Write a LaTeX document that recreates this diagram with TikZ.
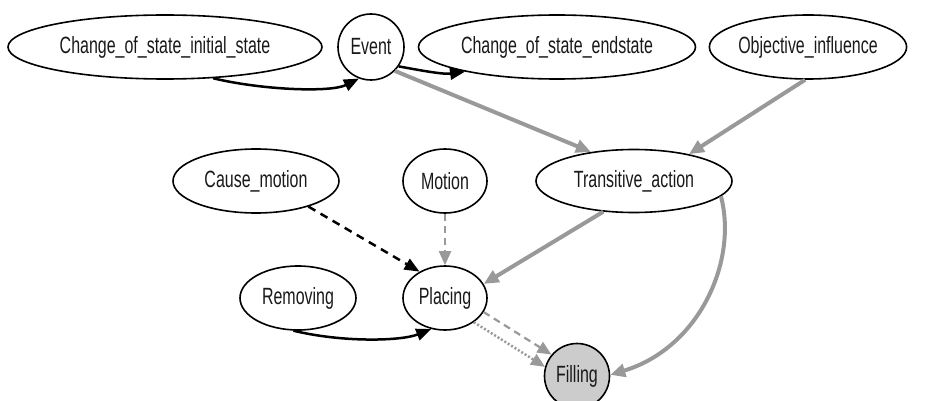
\documentclass[tikz,border=0pt]{standalone}
\usepackage{fontspec}
\setmainfont{Liberation Sans}[FakeStretch=0.68]
\usetikzlibrary{arrows.meta,shapes.geometric}
\definecolor{edgegray}{gray}{0.6}
\definecolor{fillgray}{gray}{0.8}
\tikzset{
  concept/.style={ellipse,draw=black,line width=1.6pt,inner sep=0pt,
    font=\fontsize{23.5}{26}\selectfont,text=black!90},
  blackedge/.style={draw=black,line width=2.5pt,-{Triangle[length=15pt,width=12pt]}},
  blackdash/.style={blackedge,dash pattern=on 8pt off 6pt},
  grayedge/.style={draw=edgegray,line width=4pt,-{Triangle[length=15pt,width=13pt]},edgegray},
  graydash/.style={draw=edgegray,line width=2.2pt,dash pattern=on 7pt off 5pt,
    -{Triangle[length=14pt,width=12pt]},edgegray},
  graydot/.style={draw=edgegray,line width=2.5pt,dash pattern=on 2pt off 2pt,
    -{Triangle[length=14pt,width=12pt]},edgegray},
}
\begin{document}
\begin{tikzpicture}[x=1pt,y=-1pt]
\useasboundingbox (0,0) rectangle (944,401);
\node[concept,minimum width=314pt,minimum height=64pt] (init) at (165,47) {Change\_of\_state\_initial\_state};
\node[concept,minimum width=66pt,minimum height=66pt] (event) at (371,47) {Event};
\node[concept,minimum width=277pt,minimum height=64pt] (endst) at (557,47) {Change\_of\_state\_endstate};
\node[concept,minimum width=196pt,minimum height=64pt] (obj) at (808,47) {Objective\_influence};
\node[concept,minimum width=196pt,minimum height=63pt] (trans) at (634,181) {Transitive\_action};
\node[concept,minimum width=166pt,minimum height=64pt] (cause) at (256,181) {Cause\_motion};
\node[concept,minimum width=84pt,minimum height=64pt] (motion) at (445,181) {Motion};
\node[concept,minimum width=116pt,minimum height=64pt] (remov) at (298,298) {Removing};
\node[concept,minimum width=84pt,minimum height=64pt] (placing) at (445,298) {Placing};
\node[concept,fill=fillgray,minimum width=65pt,minimum height=65pt] (fill) at (577,376) {Filling};

\draw[blackedge] (init.-33) .. controls +(50,12) and +(-28,14) .. (event.249);
\draw[blackedge] (event.-35) .. controls +(22,4) and +(-22,3) .. (endst.195);
\draw[grayedge] (event.-45) -- (trans.146);
\draw[grayedge] (obj.-95) -- (trans.26);
\draw[blackdash] (cause.-26) -- (placing.134);
\draw[graydash] (motion.south) -- (placing.north);
\draw[grayedge] (trans.-135) -- (placing.20);
\draw[grayedge] (trans.-10) .. controls +(17,65) and +(89,-27) .. (fill.2);
\draw[blackedge] (remov.-98) .. controls +(50,12) and +(-30,12) .. (placing.246);
\draw[graydash] (placing.-20) -- (fill.140);
\draw[graydot] (placing.-40) -- (fill.164);
\end{tikzpicture}
\end{document}
